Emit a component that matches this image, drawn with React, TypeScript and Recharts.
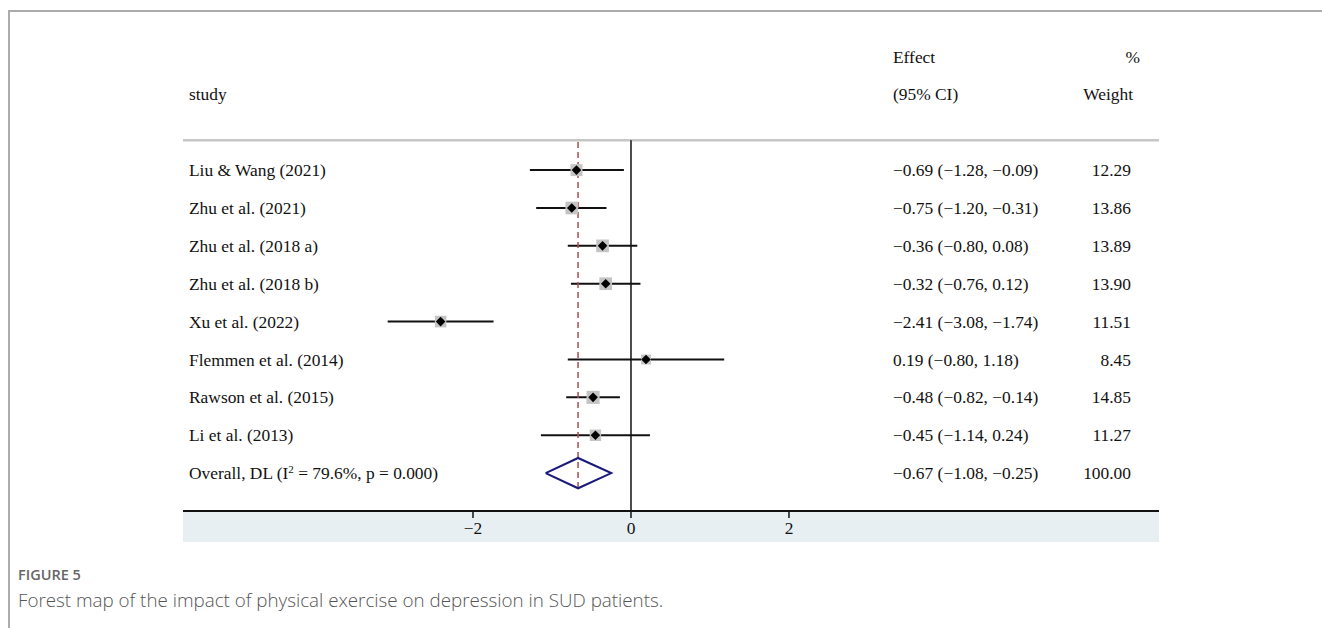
import React from "react"
import {
  ScatterChart,
  Scatter,
  XAxis,
  YAxis,
  ErrorBar,
  ReferenceLine,
} from "recharts"

const STUDIES = [
  "Liu & Wang (2021)",
  "Zhu et al. (2021)",
  "Zhu et al. (2018 a)",
  "Zhu et al. (2018 b)",
  "Xu et al. (2022)",
  "Flemmen et al. (2014)",
  "Rawson et al. (2015)",
  "Li et al. (2013)",
]
const EFFECT = [-0.69, -0.75, -0.36, -0.32, -2.41, 0.19, -0.48, -0.45]
const CI_LOW = [-1.28, -1.2, -0.8, -0.76, -3.08, -0.8, -0.82, -1.14]
const CI_HIGH = [-0.09, -0.31, 0.08, 0.12, -1.74, 1.18, -0.14, 0.24]
const WEIGHT = [12.29, 13.86, 13.89, 13.9, 11.51, 8.45, 14.85, 11.27]

const OVERALL_EFFECT = -0.67
const OVERALL_LOW = -1.08
const OVERALL_HIGH = -0.25
const OVERALL_WEIGHT = 100.0

const X_TICKS = [-2, 0, 2]

const SERIF = "'Liberation Serif', 'Times New Roman', serif"
const FS = 17.4
const OVERALL_ROW = STUDIES.length
const HEADER_LINE = -0.79
const DIAMOND_HALF = 0.4

const fmt = (v: number) => (v < 0 ? "\u2212" : "") + Math.abs(v).toFixed(2)

const rows = STUDIES.map((s, i) => ({
  x: EFFECT[i],
  y: i,
  err: [EFFECT[i] - CI_LOW[i], CI_HIGH[i] - EFFECT[i]],
  w: WEIGHT[i],
}))

const diamond = [
  { x: OVERALL_LOW, y: OVERALL_ROW },
  { x: OVERALL_EFFECT, y: OVERALL_ROW - DIAMOND_HALF },
  { x: OVERALL_HIGH, y: OVERALL_ROW },
  { x: OVERALL_EFFECT, y: OVERALL_ROW + DIAMOND_HALF },
  { x: OVERALL_LOW, y: OVERALL_ROW },
]

const rowTicks = [-3, -2, ...STUDIES.map((_, i) => i), OVERALL_ROW]

function StudyTick({ y, payload }: any) {
  const v = payload.value
  const common = { x: 189, y, dy: "0.35em", fontFamily: SERIF, fontSize: FS, fill: "#111" }
  if (v === -2) return <text {...common}>study</text>
  if (v === OVERALL_ROW)
    return (
      <text {...common}>
        Overall, DL (I
        <tspan dy="-6" fontSize="11">2</tspan>
        <tspan dy="6"> = 79.6%, p = 0.000)</tspan>
      </text>
    )
  if (v >= 0 && v < STUDIES.length) return <text {...common}>{STUDIES[v]}</text>
  return <g />
}

function ColumnTick({ y, payload }: any) {
  const v = payload.value
  const common = { y, dy: "0.35em", fontFamily: SERIF, fontSize: FS, fill: "#111" }
  let eff = ""
  let wt = ""
  let wtX = 1131
  if (v === -3) {
    eff = "Effect"
    wt = "%"
    wtX = 1140
  } else if (v === -2) {
    eff = "(95% CI)"
    wt = "Weight"
    wtX = 1133
  } else if (v === OVERALL_ROW) {
    eff = `${fmt(OVERALL_EFFECT)} (${fmt(OVERALL_LOW)}, ${fmt(OVERALL_HIGH)})`
    wt = OVERALL_WEIGHT.toFixed(2)
  } else if (v >= 0 && v < STUDIES.length) {
    eff = `${fmt(EFFECT[v])} (${fmt(CI_LOW[v])}, ${fmt(CI_HIGH[v])})`
    wt = WEIGHT[v].toFixed(2)
  }
  return (
    <g>
      <text {...common} x={893}>{eff}</text>
      <text {...common} x={wtX} textAnchor="end">{wt}</text>
    </g>
  )
}

function StudyMarker({ cx, cy, payload }: any) {
  const side = 3.4 * Math.sqrt(payload.w)
  const d = 4.8
  return (
    <g>
      <rect x={cx - side / 2} y={cy - side / 2} width={side} height={side} fill="#c4c4c4" />
      <polygon
        points={`${cx - d},${cy} ${cx},${cy - d} ${cx + d},${cy} ${cx},${cy + d}`}
        fill="#000"
      />
    </g>
  )
}

export default function App() {
  return (
    <div
      style={{
        position: "absolute",
        left: 0,
        top: 0,
        width: 1322,
        height: 628,
        background: "#fff",
        overflow: "hidden",
      }}
    >
      <div style={{ position: "absolute", left: 8, top: 10, width: 1314, height: 2, background: "#acacac" }} />
      <div style={{ position: "absolute", left: 8, top: 10, width: 2, height: 618, background: "#acacac" }} />
      <div style={{ position: "absolute", left: 183, top: 512, width: 976, height: 30, background: "#e8eff2" }} />

      <div style={{ position: "absolute", left: 0, top: 0 }}>
        <ScatterChart width={1322} height={628} margin={{ top: 18.6, right: 0, bottom: 86, left: 0 }}>
          <XAxis
            xAxisId="x"
            dataKey="x"
            type="number"
            domain={[-5.671, 6.684]}
            allowDataOverflow
            ticks={X_TICKS}
            tickFormatter={(v: number) => (v < 0 ? "\u2212" + Math.abs(v) : String(v))}
            tick={{ fontFamily: SERIF, fontSize: FS, fill: "#111" }}
            axisLine={{ stroke: "#111", strokeWidth: 2 }}
            tickLine={{ stroke: "#111", strokeWidth: 1.5 }}
            tickSize={7}
            tickMargin={4}
            height={31}
          />
          <YAxis
            yAxisId="left"
            dataKey="y"
            type="number"
            domain={[-4, 9]}
            reversed
            allowDataOverflow
            ticks={rowTicks}
            width={183}
            axisLine={false}
            tickLine={false}
            tick={<StudyTick />}
          />
          <YAxis
            yAxisId="right"
            orientation="right"
            type="number"
            domain={[-4, 9]}
            reversed
            allowDataOverflow
            ticks={rowTicks}
            width={163}
            axisLine={false}
            tickLine={false}
            tick={<ColumnTick />}
          />
          <ReferenceLine xAxisId="x" yAxisId="left" y={HEADER_LINE} stroke="#c6c6c6" strokeWidth={2.5} />
          <ReferenceLine
            xAxisId="x"
            yAxisId="left"
            segment={[{ x: 0, y: HEADER_LINE }, { x: 0, y: 9 }]}
            stroke="#111"
            strokeWidth={1.5}
          />
          <Scatter
            xAxisId="x"
            yAxisId="left"
            data={rows}
            shape={<StudyMarker />}
            isAnimationActive={false}
          >
            <ErrorBar dataKey="err" direction="x" width={0} stroke="#111" strokeWidth={2} isAnimationActive={false} />
          </Scatter>
          <Scatter
            xAxisId="x"
            yAxisId="left"
            data={diamond}
            line={{ stroke: "#1a1a7a", strokeWidth: 2 }}
            lineType="joint"
            shape={() => <g />}
            isAnimationActive={false}
          />
          <ReferenceLine
            xAxisId="x"
            yAxisId="left"
            segment={[
              { x: OVERALL_EFFECT, y: HEADER_LINE + 0.05 },
              { x: OVERALL_EFFECT, y: OVERALL_ROW + DIAMOND_HALF },
            ]}
            stroke="#b34a4e"
            strokeWidth={1.5}
            strokeDasharray="6 4"
          />
        </ScatterChart>
      </div>

      <div
        style={{
          position: "absolute",
          left: 18,
          top: 565,
          fontFamily: "'Open Sans', sans-serif",
          fontSize: 14.5,
          fontWeight: 600,
          color: "#666",
        }}
      >
        FIGURE 5
      </div>
      <div
        style={{
          position: "absolute",
          left: 18,
          top: 587,
          fontFamily: "'Open Sans', sans-serif",
          fontSize: 18.8,
          fontWeight: 300,
          color: "#555",
        }}
      >
        Forest map of the impact of physical exercise on depression in SUD patients.
      </div>
    </div>
  )
}
